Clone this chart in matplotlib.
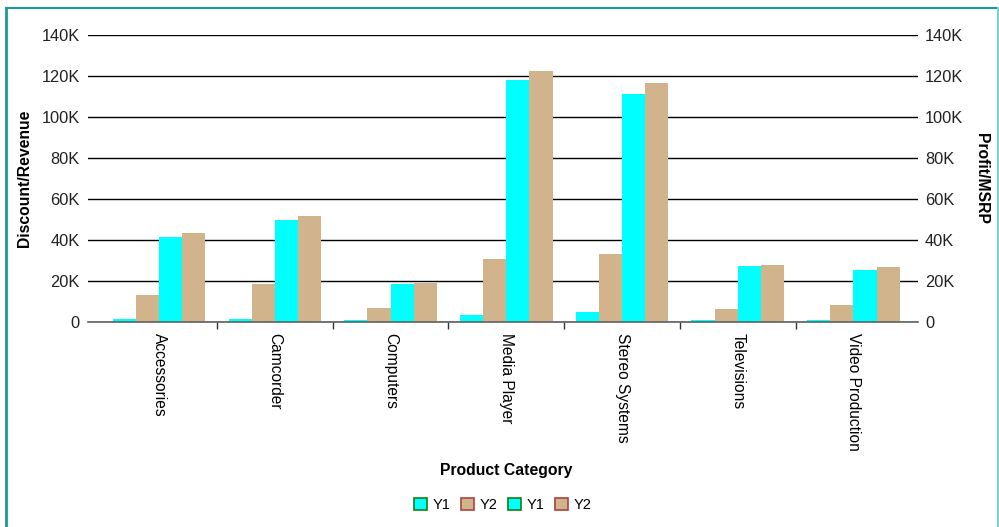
import numpy as np
import matplotlib
matplotlib.use('Agg')
import matplotlib.pyplot as plt
from matplotlib.patches import Patch
from matplotlib.lines import Line2D
from matplotlib.ticker import FuncFormatter

plt.rcParams['font.family'] = ['Liberation Sans', 'DejaVu Sans']

# data
categories = ['Accessories', 'Camcorder', 'Computers', 'Media Player',
              'Stereo Systems', 'Televisions', 'Video Production']
y1_a = [1500, 1500, 900, 3600, 4700, 900, 900]
y2_a = [13200, 18500, 6700, 30600, 33000, 6300, 8200]
y1_b = [41400, 49700, 18500, 118200, 111200, 27400, 25400]
y2_b = [43300, 51600, 19000, 122300, 116400, 27900, 26700]
series_labels = ['Y1', 'Y2', 'Y1', 'Y2']
y_ticks = [0, 20000, 40000, 60000, 80000, 100000, 120000, 140000]

cyan = '#00FFFF'
tan = '#D2B48C'

fig = plt.figure(figsize=(9.99, 5.27), dpi=100)
ax = fig.add_axes([88/999, (527-322)/527, (918-88)/999, (322-35)/527])

x = np.arange(len(categories))
w = 0.2
ax.bar(x - 1.5*w, y1_a, w, color=cyan, zorder=3)
ax.bar(x - 0.5*w, y2_a, w, color=tan, zorder=3)
ax.bar(x + 0.5*w, y1_b, w, color=cyan, zorder=3)
ax.bar(x + 1.5*w, y2_b, w, color=tan, zorder=3)

ax.set_xlim(-0.615, 6.558)
ax.set_ylim(0, 140000)

fmt = FuncFormatter(lambda v, p: '0' if v == 0 else '%dK' % (v / 1000))
ax.set_yticks(y_ticks)
ax.yaxis.set_major_formatter(fmt)
ax.grid(axis='y', color='black', linewidth=1, zorder=1)
ax.tick_params(axis='y', length=0, pad=6, labelsize=11.8, colors='#222222')

for s in ['top', 'left', 'right']:
    ax.spines[s].set_visible(False)
ax.spines['bottom'].set_color('#606060')
ax.spines['bottom'].set_linewidth(1.2)
ax.spines['bottom'].set_zorder(4)

# category labels on major ticks, boundary marks on minor ticks
ax.set_xticks(x)
ax.set_xticklabels(categories, rotation=-90, fontsize=11.2)
ax.tick_params(axis='x', which='major', length=0, pad=8)
ax.set_xticks(np.arange(len(categories) - 1) + 0.5, minor=True)
ax.tick_params(axis='x', which='minor', length=5, width=1, color='#333333')

# right axis, same scale
ax2 = ax.twinx()
ax2.set_ylim(0, 140000)
ax2.set_yticks(y_ticks)
ax2.yaxis.set_major_formatter(fmt)
ax2.tick_params(axis='y', length=0, pad=5, labelsize=11.8, colors='#222222')
for s in ax2.spines.values():
    s.set_visible(False)

fig.text(25/999, 1 - 178/527, 'Discount/Revenue', rotation=90, ha='center',
         va='center', fontsize=11.3, fontweight='bold')
fig.text(981/999, 1 - 178/527, 'Profit/MSRP', rotation=-90, ha='center',
         va='center', fontsize=11.3, fontweight='bold')
fig.text(506/999, 1 - 471/527, 'Product Category', ha='center', va='center',
         fontsize=11.3, fontweight='bold')

handles = [Patch(facecolor=cyan, edgecolor='#108010', linewidth=1.2),
           Patch(facecolor=tan, edgecolor='#b04040', linewidth=1.2),
           Patch(facecolor=cyan, edgecolor='#108010', linewidth=1.2),
           Patch(facecolor=tan, edgecolor='#b04040', linewidth=1.2)]
fig.legend(handles, series_labels, loc='center', bbox_to_anchor=(503/999, 1 - 505/527),
           ncol=4, frameon=False, fontsize=10.5, handlelength=0.9, handleheight=0.9,
           handletextpad=0.4, columnspacing=0.7)

# teal frame around the chart
fig.add_artist(Line2D([6/999, 6/999], [0, 1 - 8/527], color='#1a9a9a', linewidth=2,
                      transform=fig.transFigure))
fig.add_artist(Line2D([6/999, 998/999], [1 - 8/527, 1 - 8/527], color='#1a9a9a',
                      linewidth=1.5, transform=fig.transFigure))
fig.add_artist(Line2D([998/999, 998/999], [0, 1 - 8/527], color='#80d0d0', linewidth=1.5,
                      transform=fig.transFigure))

plt.savefig('out.png', dpi=100)
plt.close()
